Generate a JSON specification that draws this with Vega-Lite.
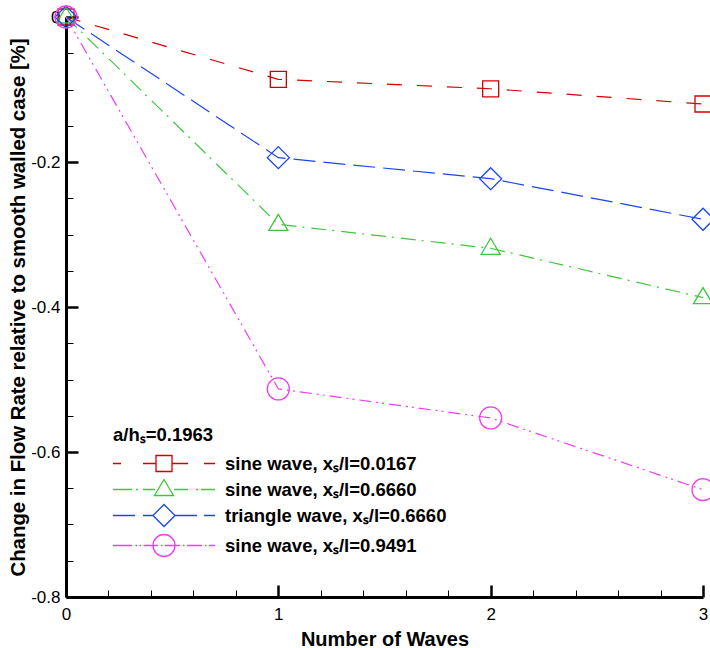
{
  "$schema": "https://vega.github.io/schema/vega-lite/v6.json",
  "autosize": {"type": "none"},
  "padding": {"left": 66, "top": 17, "right": 7, "bottom": 51},
  "width": 637,
  "height": 580,
  "background": "white",
  "config": {"view": {"stroke": null}},
  "data": {
    "values": [
      {"id": "s1", "label": "sine wave, xₛ/l=0.0167", "x": 0, "y": 0},
      {"id": "s1", "label": "sine wave, xₛ/l=0.0167", "x": 1, "y": -0.086},
      {"id": "s1", "label": "sine wave, xₛ/l=0.0167", "x": 2, "y": -0.099},
      {"id": "s1", "label": "sine wave, xₛ/l=0.0167", "x": 3, "y": -0.120},
      {"id": "s2", "label": "sine wave, xₛ/l=0.6660", "x": 0, "y": 0},
      {"id": "s2", "label": "sine wave, xₛ/l=0.6660", "x": 1, "y": -0.286},
      {"id": "s2", "label": "sine wave, xₛ/l=0.6660", "x": 2, "y": -0.319},
      {"id": "s2", "label": "sine wave, xₛ/l=0.6660", "x": 3, "y": -0.387},
      {"id": "s3", "label": "triangle wave, xₛ/l=0.6660", "x": 0, "y": 0},
      {"id": "s3", "label": "triangle wave, xₛ/l=0.6660", "x": 1, "y": -0.194},
      {"id": "s3", "label": "triangle wave, xₛ/l=0.6660", "x": 2, "y": -0.223},
      {"id": "s3", "label": "triangle wave, xₛ/l=0.6660", "x": 3, "y": -0.279},
      {"id": "s4", "label": "sine wave, xₛ/l=0.9491", "x": 0, "y": 0},
      {"id": "s4", "label": "sine wave, xₛ/l=0.9491", "x": 1, "y": -0.513},
      {"id": "s4", "label": "sine wave, xₛ/l=0.9491", "x": 2, "y": -0.553},
      {"id": "s4", "label": "sine wave, xₛ/l=0.9491", "x": 3, "y": -0.652}
    ]
  },
  "encoding": {
    "x": {
      "field": "x", "type": "quantitative",
      "scale": {"domain": [0, 3], "nice": false, "zero": false},
      "axis": {
        "title": "Number of Waves",
        "values": [0, 0.2, 0.4, 0.6, 0.8, 1, 1.2, 1.4, 1.6, 1.8, 2, 2.2, 2.4, 2.6, 2.8, 3],
        "labelExpr": "abs(datum.value - round(datum.value)) < 0.001 ? format(datum.value, '.0f') : ''",
        "tickSize": {"condition": {"test": "abs(datum.value - round(datum.value)) < 0.001", "value": -12}, "value": -7},
        "tickWidth": {"condition": {"test": "abs(datum.value - round(datum.value)) < 0.001", "value": 2.5}, "value": 1},
        "tickColor": "black",
        "domainColor": "black", "domainWidth": 3,
        "labelColor": "black", "labelFont": "Liberation Sans", "labelFontSize": 17,
        "labelPadding": 21, "labelFlush": false, "labelOverlap": false,
        "titleFont": "Liberation Sans", "titleFontSize": 20, "titleFontWeight": "bold", "titleColor": "black",
        "titlePadding": 2, "grid": false
      }
    },
    "y": {
      "field": "y", "type": "quantitative",
      "scale": {"domain": [-0.8, 0], "nice": false, "zero": false},
      "axis": {
        "title": "Change in Flow Rate relative to smooth walled case [%]",
        "values": [-0.8, -0.75, -0.7, -0.65, -0.6, -0.55, -0.5, -0.45, -0.4, -0.35, -0.3, -0.25, -0.2, -0.15, -0.1, -0.05, 0],
        "labelExpr": "abs(datum.value*5 - round(datum.value*5)) < 0.001 ? (abs(datum.value) < 0.001 ? '0' : replace(format(datum.value, '.1f'), '\u2212', '-')) : ''",
        "tickSize": {"condition": {"test": "abs(datum.value*5 - round(datum.value*5)) < 0.001", "value": -12}, "value": -7},
        "tickWidth": {"condition": {"test": "abs(datum.value*5 - round(datum.value*5)) < 0.001", "value": 2.5}, "value": 1},
        "tickColor": "black",
        "domainColor": "black", "domainWidth": 3,
        "labelColor": "black", "labelFont": "Liberation Sans", "labelFontSize": 17,
        "labelPadding": 18, "labelFlush": false, "labelOverlap": false,
        "titleFont": "Liberation Sans", "titleFontSize": 20.4, "titleFontWeight": "bold", "titleColor": "black",
        "titlePadding": 2, "grid": false
      }
    },
    "color": {
      "field": "label", "type": "nominal",
      "scale": {
        "domain": ["sine wave, xₛ/l=0.0167", "sine wave, xₛ/l=0.6660", "triangle wave, xₛ/l=0.6660", "sine wave, xₛ/l=0.9491"],
        "range": ["#d10000", "#3cc83c", "#1a44f5", "#f03cf0"]
      },
      "legend": {
        "orient": "none", "legendX": 47, "legendY": 409,
        "title": "a/hₛ=0.1963",
        "titleFont": "Liberation Sans", "titleFontSize": 18.5, "titleFontWeight": "bold", "titleColor": "black", "titlePadding": 8,
        "labelFont": "Liberation Sans", "labelFontSize": 18.5, "labelFontWeight": "bold", "labelColor": "black",
        "labelOffset": 50, "labelLimit": 400,
        "symbolSize": 400, "symbolStrokeWidth": 1.3, "symbolOffset": 40, "rowPadding": 2, "padding": 0,
        "encode": {
          "symbols": {
            "update": {
              "fill": {"value": "transparent"},
              "shape": [
                {"test": "datum.index === 0", "value": "M-5.1,0H-4.3M-2.1,0H-0.8M0.8,0H2.4M4,0H5.1M-0.8,-0.8H0.8V0.8H-0.8Z"},
                {"test": "datum.index === 1", "value": "M-5.1,0H-3.2M-2.8,0H-2.6M-2.1,0H-0.9M1,0H2.4M3.2,0H3.4M3.7,0H5.1M0,-1L0.95,0.6H-0.95Z"},
                {"test": "datum.index === 2", "value": "M-5.1,0H-2.9M-2.1,0H-1.1M1.1,0H3.3M4,0H5.1M0,-1.1L1.1,0L0,1.1L-1.1,0Z"},
                {"value": "M-5.1,0H-3.2M-2.85,0H-2.7M-2.45,0H-2.3M-2.05,0H-0.6M-0.3,0H-0.15M0.1,0H1.6M1.9,0H2.05M2.3,0H3.8M4.1,0H4.25M4.5,0H5.1M-1.1,0A1.1,1.1,0,1,1,1.1,0A1.1,1.1,0,1,1,-1.1,0Z"}
              ]
            }
          }
        }
      }
    }
  },
  "layer": [
    {
      "mark": {"type": "line", "strokeWidth": 1.2, "clip": false},
      "encoding": {
        "strokeDash": {
          "field": "id", "type": "nominal",
          "scale": {
            "domain": ["s1", "s2", "s3", "s4"],
            "range": [[15, 15], [15, 6, 2, 7], [22, 8], [12, 5, 2, 4, 2, 5]]
          },
          "legend": null
        }
      }
    },
    {
      "mark": {"type": "point", "filled": false, "size": 400, "strokeWidth": 1.3, "opacity": 1, "clip": false},
      "encoding": {
        "shape": {
          "field": "id", "type": "nominal",
          "scale": {
            "domain": ["s1", "s2", "s3", "s4"],
            "range": [
              "M-0.8,-0.8H0.8V0.8H-0.8Z",
              "M0,-1L0.95,0.6H-0.95Z",
              "M0,-1.1L1.1,0L0,1.1L-1.1,0Z",
              "M-1.1,0A1.1,1.1,0,1,1,1.1,0A1.1,1.1,0,1,1,-1.1,0Z"
            ]
          },
          "legend": null
        }
      }
    }
  ]
}
